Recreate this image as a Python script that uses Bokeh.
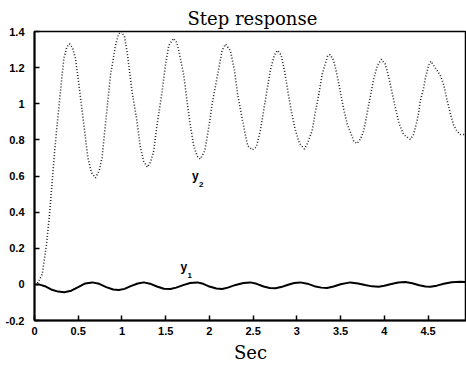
from bokeh.plotting import figure
from bokeh.models import FixedTicker, Range1d, Label
from bokeh.embed import file_html
from bokeh.resources import INLINE

# ---- data ----
t2 = [0.00, 0.04, 0.088, 0.137, 0.171, 0.202, 0.229, 0.259, 0.297, 0.335, 0.37, 0.40,
      0.435, 0.469, 0.518, 0.564, 0.61, 0.65, 0.697,
      0.74, 0.773, 0.811, 0.869, 0.926, 0.96, 0.994,
      1.03, 1.059, 1.116, 1.166, 1.211, 1.25, 1.29,
      1.33, 1.363, 1.402, 1.459, 1.497, 1.535, 1.589,
      1.625, 1.65, 1.707, 1.745, 1.775, 1.821, 1.86, 1.897,
      1.947, 1.973, 2.004, 2.03, 2.07, 2.107, 2.145, 2.183,
      2.24, 2.286, 2.324, 2.373, 2.41, 2.438, 2.49,
      2.537, 2.583, 2.62, 2.659, 2.697, 2.743, 2.78,
      2.82, 2.86, 2.90, 2.94, 2.98, 3.03, 3.086,
      3.117, 3.174, 3.21, 3.25, 3.288, 3.314, 3.352, 3.38,
      3.42, 3.46, 3.50, 3.54, 3.575, 3.611, 3.65, 3.688,
      3.726, 3.763, 3.783, 3.80, 3.84, 3.88, 3.92, 3.966,
      4.01, 4.05, 4.09, 4.13, 4.17, 4.22, 4.297,
      4.335, 4.373, 4.392, 4.411, 4.449, 4.469, 4.506, 4.534,
      4.58, 4.64, 4.68, 4.717, 4.754, 4.79, 4.83, 4.87, 4.906, 4.94]
y2 = [0.00, 0.01, 0.056, 0.22, 0.384, 0.567, 0.73, 0.885, 1.067, 1.25, 1.315, 1.332,
      1.31, 1.25, 1.067, 0.885, 0.703, 0.62, 0.59,
      0.63, 0.703, 0.885, 1.158, 1.322, 1.385, 1.40,
      1.37, 1.286, 1.067, 0.922, 0.758, 0.68, 0.649,
      0.68, 0.739, 0.885, 1.067, 1.213, 1.322, 1.362,
      1.34, 1.295, 1.158, 1.013, 0.903, 0.767, 0.71, 0.694,
      0.739, 0.812, 0.903, 0.995, 1.10, 1.195, 1.295, 1.33,
      1.295, 1.186, 1.049, 0.922, 0.831, 0.767, 0.745,
      0.76, 0.852, 0.96, 1.077, 1.186, 1.27, 1.295,
      1.27, 1.18, 1.06, 0.95, 0.86, 0.78, 0.749,
      0.776, 0.849, 0.95, 1.049, 1.158, 1.204, 1.264, 1.272,
      1.24, 1.16, 1.06, 0.96, 0.89, 0.845, 0.794, 0.78,
      0.803, 0.849, 0.894, 0.94, 1.04, 1.14, 1.21, 1.246,
      1.22, 1.15, 1.06, 0.97, 0.89, 0.83, 0.803,
      0.83, 0.903, 0.949, 1.013, 1.086, 1.14, 1.213, 1.235,
      1.20, 1.158, 1.104, 1.022, 0.949, 0.885, 0.849, 0.83, 0.83, 0.84]

t1 = [0.0, 0.05, 0.12, 0.2, 0.27, 0.34, 0.42, 0.5, 0.58, 0.66, 0.74, 0.82, 0.9, 0.964,
      1.03, 1.1, 1.18, 1.25, 1.32, 1.40, 1.48, 1.554, 1.62, 1.7, 1.78, 1.86, 1.93, 2.0,
      2.08, 2.145, 2.21, 2.3, 2.39, 2.469, 2.54, 2.62, 2.69, 2.754, 2.82, 2.9, 2.97, 3.04,
      3.12, 3.2, 3.28, 3.345, 3.42, 3.5, 3.611, 3.7, 3.78, 3.86, 3.935, 4.0, 4.08, 4.16,
      4.24, 4.32, 4.4, 4.47, 4.526, 4.6, 4.68, 4.77, 4.869, 4.94]
y1 = [0.0, 0.0, -0.01, -0.03, -0.04, -0.044, -0.035, -0.015, 0.005, 0.011, 0.003, -0.015, -0.028, -0.031,
      -0.025, -0.01, 0.005, 0.011, 0.004, -0.012, -0.024, -0.026, -0.018, -0.004, 0.008, 0.011, 0.003, -0.012,
      -0.023, -0.026, -0.018, -0.003, 0.008, 0.011, 0.003, -0.012, -0.02, -0.022, -0.015, -0.002, 0.008, 0.011,
      0.004, -0.01, -0.018, -0.02, -0.012, 0.001, 0.011, 0.005, -0.004, -0.011, -0.013, -0.008, 0.002, 0.01,
      0.013, 0.006, -0.005, -0.012, -0.013, -0.007, 0.003, 0.012, 0.015, 0.013]

x_ticks = [0, 0.5, 1, 1.5, 2, 2.5, 3, 3.5, 4, 4.5]
x_tick_labels = ["0", "0.5", "1", "1.5", "2", "2.5", "3", "3.5", "4", "4.5"]
y_ticks = [-0.2, 0, 0.2, 0.4, 0.6, 0.8, 1, 1.2, 1.4]
y_tick_labels = ["-0.2", "0", "0.2", "0.4", "0.6", "0.8", "1", "1.2", "1.4"]

p = figure(width=466, height=365, output_backend="svg", toolbar_location=None,
           x_range=Range1d(0, 4.94), y_range=Range1d(-0.2, 1.4),
           min_border_left=34, min_border_right=0, min_border_top=31, min_border_bottom=41)
p.background_fill_color = "white"
p.border_fill_color = "white"
p.outline_line_color = "black"
p.outline_line_width = 1.5
p.xgrid.visible = False
p.ygrid.visible = False

p.title.text = "Step response"
p.title.align = "left"
p.title.offset = 153
p.title.text_font = "DejaVu Serif"
p.title.text_font_size = "18px"
p.title.text_font_style = "normal"
p.title.text_color = "black"
p.title.standoff = 5

label_font = "Liberation Sans"

def style_axis(ax, ticks, labels, standoff):
    ax.ticker = FixedTicker(ticks=ticks)
    ax.major_label_overrides = {tk: lb for tk, lb in zip(ticks, labels)}
    ax.axis_line_color = "black"
    ax.axis_line_width = 2
    ax.major_tick_in = 5
    ax.major_tick_out = 0
    ax.major_tick_line_width = 1.5
    ax.minor_tick_line_color = None
    ax.major_label_text_font = label_font
    ax.major_label_text_font_style = "bold"
    ax.major_label_text_font_size = "11px"
    ax.major_label_text_color = "black"
    ax.major_label_standoff = standoff

style_axis(p.xaxis[0], x_ticks, x_tick_labels, 6)
style_axis(p.yaxis[0], y_ticks, y_tick_labels, 10)
p.xaxis[0].axis_label = "Sec"
p.xaxis[0].axis_label_text_font = "DejaVu Serif"
p.xaxis[0].axis_label_text_font_size = "18px"
p.xaxis[0].axis_label_text_font_style = "normal"
p.xaxis[0].axis_label_text_color = "black"
p.xaxis[0].axis_label_standoff = 4

p.line(t2, y2, line_color="#2a2a2a", line_width=1.6, line_dash="1 2")
p.line(t1, y1, line_color="black", line_width=2)

for lx, ly, sub in [(1.80, 0.56, "2"), (1.67, 0.06, "1")]:
    p.add_layout(Label(x=lx, y=ly, text="y", text_font=label_font,
                       text_font_style="bold", text_font_size="12px", text_color="black"))
    p.add_layout(Label(x=lx, y=ly, x_offset=7, y_offset=-4, text=sub, text_font=label_font,
                       text_font_style="bold", text_font_size="8px", text_color="black"))

open("out.html", "w").write(file_html(p, INLINE))
